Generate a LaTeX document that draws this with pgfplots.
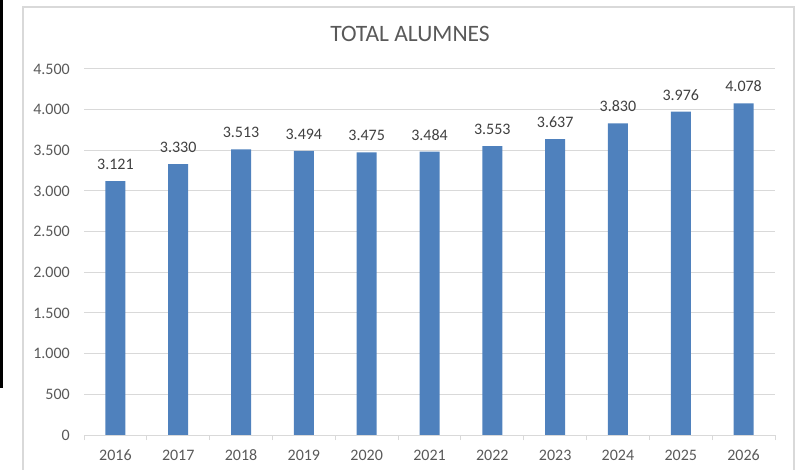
\documentclass[border=0pt]{standalone}
\usepackage{pgfplots}
\pgfplotsset{compat=1.18}
\usepackage{fontspec}
\setmainfont{Carlito}
\definecolor{barblue}{HTML}{4F81BD}
\definecolor{gridgray}{HTML}{D9D9D9}
\definecolor{ticktext}{HTML}{595959}
\definecolor{labeltext}{HTML}{404040}
\begin{document}
\begin{tikzpicture}
\useasboundingbox (0,0) rectangle (798bp,470bp);
\fill[black] (0,82bp) rectangle (3bp,470bp);
\draw[gridgray, line width=1.2bp] (23bp,-5bp) rectangle (794bp,463bp);
\node[anchor=base, text=ticktext, font=\fontsize{23.5bp}{27bp}\selectfont, inner sep=0pt] at (410bp,428.3bp) {TOTAL ALUMNES};
\begin{axis}[
  at={(84bp,35bp)}, anchor=south west,
  scale only axis, width=691bp, height=366bp,
  xmin=-0.5, xmax=10.5, ymin=0, ymax=4500,
  ytick={0,500,...,4500},
  xtick={0,...,10},
  xticklabels={2016,2017,2018,2019,2020,2021,2022,2023,2024,2025,2026},
  minor xtick={-0.5,0.5,...,10.5},
  axis x line*=bottom, axis y line*=left,
  x axis line style={draw=gridgray, line width=1bp, -},
  y axis line style={draw=none},
  major tick length=0pt, minor tick length=5bp, tick align=outside,
  minor tick style={gridgray, line width=1bp},
  ymajorgrids, grid style={gridgray, line width=1bp},
  scaled y ticks=false,
  xticklabel style={anchor=base, inner sep=0pt, yshift=-25bp, text=ticktext, font=\fontsize{16bp}{18bp}\selectfont},
  yticklabel style={anchor=east, inner sep=0pt, xshift=-14bp, text=ticktext, font=\fontsize{16bp}{18bp}\selectfont},
  /pgf/number format/1000 sep={.},
  /pgf/number format/assume math mode=true,
]
\addplot[ybar, fill=barblue, draw=none, bar width=20bp,
  nodes near coords,
  nodes near coords style={anchor=base, inner sep=0pt, yshift=11.5bp, text=labeltext, font=\fontsize{16bp}{18bp}\selectfont}]
  coordinates {(0,3121) (1,3330) (2,3513) (3,3494) (4,3475) (5,3484) (6,3553) (7,3637) (8,3830) (9,3976) (10,4078)};
\end{axis}
\end{tikzpicture}
\end{document}
